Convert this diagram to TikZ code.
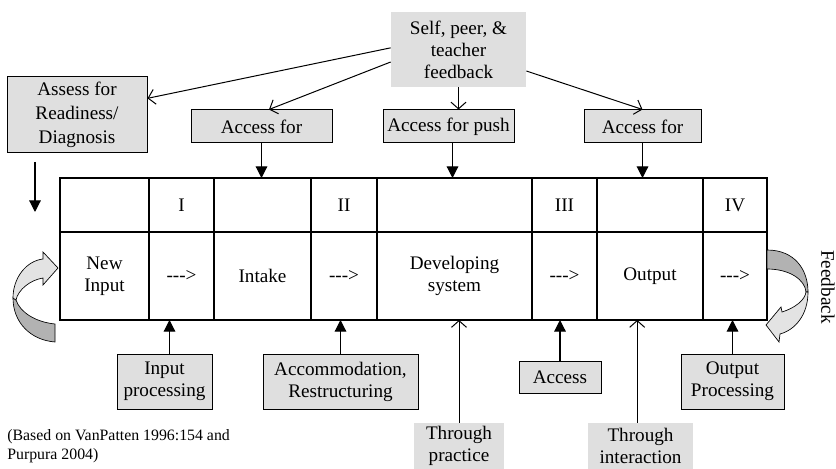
\documentclass[tikz,border=0pt]{standalone}
\usepackage{fontspec}
\setmainfont{Liberation Serif}
\usetikzlibrary{positioning,arrows.meta}

\tikzset{
  grey box/.style={draw, fill=gray!25, line width=0.6pt, align=center, inner sep=1pt},
  plain grey/.style={fill=gray!25, align=center, inner sep=0.5pt},
  cell/.style={draw, line width=0.8pt, outer sep=0pt, inner sep=0pt, align=center, minimum height=32.4pt},
  low cell/.style={cell, minimum height=52.8pt},
  solid tip/.style={-{Triangle[length=7pt,width=7pt]}, line width=0.7pt},
  open tip/.style={-{Straight Barb[length=4pt,width=9pt]}, line width=0.6pt},
  turn arrow/.style={draw=black, line width=0.4pt},
}
\newcommand{\dasharrow}{-{}-{}-{}>}

\begin{document}
\begin{tikzpicture}[x=0.6pt, y=-0.6pt, font=\fontsize{11.5}{13.2}\selectfont]
\useasboundingbox (0,0) rectangle (836,469);

% the table, top row
\node[cell, minimum width=53.4pt, anchor=north west] (t1) at (60,178) {};
\node[cell, minimum width=39pt, right=0pt of t1] (t2) {I};
\node[cell, minimum width=58.2pt, right=0pt of t2] (t3) {};
\node[cell, minimum width=39.6pt, right=0pt of t3] (t4) {II};
\node[cell, minimum width=93pt, right=0pt of t4] (t5) {};
\node[cell, minimum width=39pt, right=0pt of t5] (t6) {III};
\node[cell, minimum width=63.6pt, right=0pt of t6] (t7) {};
\node[cell, minimum width=38.4pt, right=0pt of t7] (t8) {IV};
% bottom row
\node[low cell, minimum width=53.4pt, below=0pt of t1] (b1) {New\\Input};
\node[low cell, minimum width=39pt, below=0pt of t2] (b2) {\dasharrow};
\node[low cell, minimum width=58.2pt, below=0pt of t3] (b3) {Intake};
\node[low cell, minimum width=39.6pt, below=0pt of t4] (b4) {\dasharrow};
\node[low cell, minimum width=93pt, below=0pt of t5] (b5) {Developing\\system};
\node[low cell, minimum width=39pt, below=0pt of t6] (b6) {\dasharrow};
\node[low cell, minimum width=63.6pt, below=0pt of t7] (b7) {Output};
\node[low cell, minimum width=38.4pt, below=0pt of t8] (b8) {\dasharrow};

% boxes above
\node[plain grey, minimum width=81pt, minimum height=45pt] (self) at (458.5,49.5) {Self, peer, \&\\teacher\\feedback};
\node[grey box, minimum width=84pt, minimum height=45.6pt, font=\fontsize{11.5}{14.4}\selectfont] (assess) at (77,115) {Assess for\\Readiness/\\Diagnosis};
\node[grey box, minimum width=84.6pt, minimum height=19.8pt] (accin) at (261.5,126.5) {Access for};
\node[grey box, minimum width=78.6pt, minimum height=19.8pt] (accpush) at (448.5,126.5) {Access for push};
\node[grey box, minimum width=70.2pt, minimum height=19.8pt] (accout) at (642.5,126.5) {Access for};

\draw[open tip] ([yshift=1pt]self.west) -- ([yshift=10pt]assess.east);
\draw[open tip] ([yshift=-7.5pt]self.west) -- ([xshift=4.5pt]accin.north);
\draw[open tip] (self.south) -- (self.south |- accpush.north);
\draw[open tip] ([yshift=-12.9pt]self.east) -- (accout.north);

\draw[solid tip] (accin.south) -- (accin.south |- t3.north);
\draw[solid tip] ([xshift=2.4pt]accpush.south) -- ([xshift=2.4pt]accpush.south |- t5.north);
\draw[solid tip] (accout.south) -- (accout.south |- t7.north);

\coordinate (ra) at (35,162);
\coordinate (rb) at (35,212);
\draw[solid tip] (ra) -- (rb);

% boxes below
\node[grey box, minimum width=57pt, minimum height=33pt] (inproc) at (164.5,381.5) {Input\\processing};
\node[grey box, minimum width=93pt, minimum height=33pt] (accom) at (340.5,381.5) {Accommodation,\\Restructuring};
\node[grey box, minimum width=49.2pt, minimum height=19.2pt] (access) at (560,377) {Access};
\node[grey box, minimum width=61.8pt, minimum height=33pt] (outproc) at (732.5,381.5) {Output\\Processing};
\node[plain grey, minimum width=54pt, minimum height=27.6pt] (practice) at (459,446) {Through\\practice};
\node[plain grey, minimum width=63pt, minimum height=27.6pt] (interact) at (640.5,446) {Through\\interaction};

\draw[solid tip] ([xshift=3pt]inproc.north) -- ([xshift=3pt]inproc.north |- b2.south);
\draw[solid tip] (accom.north) -- (accom.north |- b4.south);
\draw[solid tip] (access.north) -- (access.north |- b6.south);
\draw[solid tip] (outproc.north) -- (outproc.north |- b8.south);
\draw[open tip] (practice.north) -- (practice.north |- b5.south);
\draw[open tip] ([xshift=-2pt]interact.north) -- ([xshift=-2pt]interact.north |- b7.south);

\node[anchor=north west, align=left, inner sep=0pt, font=\fontsize{9.5}{11.5}\selectfont] (note) at (7,429) {(Based on VanPatten 1996:154 and\\Purpura 2004)};
\node[rotate=-90, inner sep=0pt] (fb) at (828,287) {Feedback};

% curved arrow, left
\filldraw[turn arrow, fill=gray!60] (13,298) .. controls (13,322) and (30,340) .. (55,342) -- (55,324) .. controls (35,322) and (20,312) .. (16,300) -- cycle;
\filldraw[turn arrow, fill=gray!22] (13,298) .. controls (13,278) and (26,261) .. (43,259) -- (43,252) -- (58,268) -- (43,285) -- (43,278) .. controls (30,280) and (18,290) .. (16,300) -- cycle;

% curved arrow, right
\filldraw[turn arrow, fill=gray!60] (767,250) .. controls (795,250) and (808,270) .. (808,292) -- (806,292) .. controls (805,280) and (790,269) .. (767,269) -- cycle;
\filldraw[turn arrow, fill=gray!22] (808,292) .. controls (808,315) and (795,330) .. (780,334) -- (779,342) -- (766,325) -- (781,307) -- (782,312) .. controls (795,308) and (805,300) .. (806,292) -- cycle;
\end{tikzpicture}
\end{document}
